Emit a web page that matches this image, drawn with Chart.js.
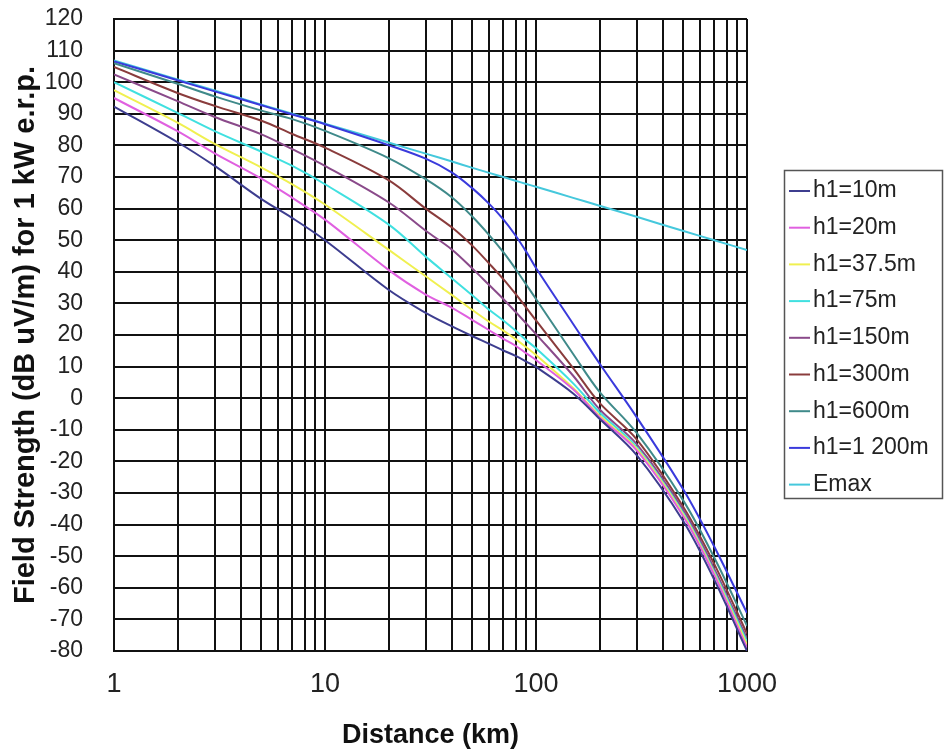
<!DOCTYPE html>
<html lang="en">
<head>
<meta charset="UTF-8">
<title>Field strength vs distance</title>
<style>
  html, body { margin: 0; padding: 0; background: #fff; }
  #chart { display: block; }
</style>
<script src="https://cdn.jsdelivr.net/npm/chart.js"></script>
</head>
<body>
<canvas id="chart" width="944" height="749"></canvas>
<script>
const distances = [1, 2, 3, 5, 7, 10, 20, 30, 40, 50, 60, 70, 80, 90, 100, 150, 200, 300, 500, 700, 1000];

// field strength (dB uV/m) for each transmitting height
const h10   = [92.3, 81, 73.5, 63, 57, 50, 34.3, 27, 22.7, 19.6, 17.2, 15.1, 13.4, 11.6, 9.9, 1.5, -6.5, -18, -39, -57.5, -80];
const h20   = [95, 84.5, 77.5, 69.5, 63.4, 56.5, 40.6, 32.8, 28.6, 24.7, 21.5, 18.8, 16.6, 14.2, 12.1, 2.8, -6, -16.5, -37.5, -56, -79];
const h37   = [97.5, 87.2, 80.5, 73, 67.7, 61.3, 47, 38.6, 32.6, 27.9, 24.2, 21.4, 18.7, 16.1, 13.7, 3.2, -5.5, -16, -37, -55.5, -78];
const h75   = [100, 90.3, 84.5, 78, 73.5, 67.7, 55, 44.8, 37.9, 32.5, 28, 24.6, 21.4, 18.3, 15.8, 4.7, -4.5, -15.5, -36.5, -55, -77];
const h150  = [102.5, 94, 89, 83.5, 78.8, 73.5, 62, 53, 47, 41, 35.8, 31.4, 27.3, 23.6, 20.3, 7.1, -3.5, -14.5, -35.5, -54, -76];
const h300  = [104.8, 96.6, 92.5, 87.8, 83.6, 79.3, 69, 60, 54, 48.2, 42.6, 37.7, 33, 28.6, 24.6, 9.5, -1.5, -13, -34.5, -52.5, -74.5];
const h600  = [106, 99.5, 95.5, 91, 88.3, 84.6, 76, 69.3, 63.5, 57.4, 51.6, 46.2, 40.9, 35.9, 31.4, 14, 2, -11, -32.5, -50.5, -72];
const h1200 = [106.6, 100.6, 97.1, 92.7, 89.8, 86.7, 80.1, 75.8, 71.4, 66.4, 61.5, 56.6, 51.5, 46.3, 41.2, 23.5, 11, -6, -29, -47, -68];
const emax  = [106.9, 100.9, 97.4, 92.9, 90, 86.9, 80.9, 77.4, 74.9, 72.9, 71.3, 70, 68.8, 67.8, 66.9, 63.4, 60.9, 57.4, 52.9, 50, 46.9];

const seriesNames  = ['h1=10m', 'h1=20m', 'h1=37.5m', 'h1=75m', 'h1=150m', 'h1=300m', 'h1=600m', 'h1=1 200m', 'Emax'];
const seriesValues = [h10, h20, h37, h75, h150, h300, h600, h1200, emax];
const seriesColors = ['#3d3d8f', '#e060e0', '#f0f050', '#40e0e0', '#8a4a8a', '#8a3c3c', '#3f8a8a', '#3a3adc', '#45c8dc'];

// axis labels
const xLabelValues = [1, 10, 100, 1000];
const yMin = -80, yMax = 120, yStep = 10;

// grid lines at 1..9 of every decade
const xGrid = [];
for (let dec = 1; dec < 1000; dec *= 10) {
    for (let m = 1; m < 10; m++) xGrid.push(m * dec);
}
xGrid.push(1000);

const datasets = seriesNames.map((name, s) => ({
    label: name,
    data: distances.map((d, i) => ({ x: d, y: seriesValues[s][i] })),
    borderColor: seriesColors[s],
    backgroundColor: seriesColors[s],
    borderWidth: 2,
    pointRadius: 0,
    fill: false,
    tension: 0.35
}));

const font = '"Liberation Sans", Arial, sans-serif';

// boxed legend to the right of the plot
const boxLegend = {
    id: 'boxLegend',
    afterDraw(chart) {
        const ctx = chart.ctx;
        ctx.save();
        ctx.strokeStyle = '#555';
        ctx.lineWidth = 1.5;
        ctx.strokeRect(784.5, 170.5, 158, 328);
        ctx.font = '23px ' + font;
        ctx.textBaseline = 'middle';
        chart.data.datasets.forEach((ds, i) => {
            const y = 191 + i * 36.7;
            ctx.strokeStyle = ds.borderColor;
            ctx.lineWidth = 2;
            ctx.beginPath();
            ctx.moveTo(789, y);
            ctx.lineTo(810, y);
            ctx.stroke();
            ctx.fillStyle = '#222';
            ctx.fillText(ds.label, 813, y);
        });
        ctx.restore();
    }
};

new Chart(document.getElementById('chart'), {
    type: 'line',
    data: { datasets: datasets },
    plugins: [boxLegend],
    options: {
        responsive: false,
        animation: false,
        layout: { padding: { top: 19, right: 197, bottom: 0, left: 0 } },
        plugins: {
            legend: { display: false },
            tooltip: { enabled: false }
        },
        scales: {
            x: {
                type: 'logarithmic',
                min: 1,
                max: 1000,
                afterBuildTicks: (scale) => { scale.ticks = xGrid.map(v => ({ value: v })); },
                afterFit: (scale) => { scale.height = 98; },
                ticks: {
                    autoSkip: false,
                    maxRotation: 0,
                    padding: 17,
                    color: '#222',
                    font: { family: font, size: 27 },
                    callback: (v) => xLabelValues.includes(v) ? String(v) : ''
                },
                grid: { color: '#111', lineWidth: 2, drawTicks: false },
                border: { display: true, color: '#111', width: 2 },
                title: {
                    display: true,
                    text: 'Distance (km)',
                    color: '#111',
                    font: { family: font, size: 27, weight: 'bold', lineHeight: 1 },
                    padding: { top: 0, bottom: 0 }
                }
            },
            y: {
                min: yMin,
                max: yMax,
                afterFit: (scale) => {
                    scale.width = 114;
                    // keep the tick padding from pushing the plot down
                    scale.paddingTop = 0;
                    scale.paddingBottom = 0;
                },
                ticks: {
                    stepSize: yStep,
                    autoSkip: false,
                    padding: 31,
                    color: '#222',
                    font: { family: font, size: 23 }
                },
                grid: { color: '#111', lineWidth: 2, drawTicks: false },
                border: { display: true, color: '#111', width: 2 },
                title: {
                    display: true,
                    text: 'Field Strength (dB uV/m) for 1 kW e.r.p.',
                    color: '#111',
                    font: { family: font, size: 29, weight: 'bold', lineHeight: 1 },
                    padding: { top: 11, bottom: 0 }
                }
            }
        }
    }
});
</script>
</body>
</html>
